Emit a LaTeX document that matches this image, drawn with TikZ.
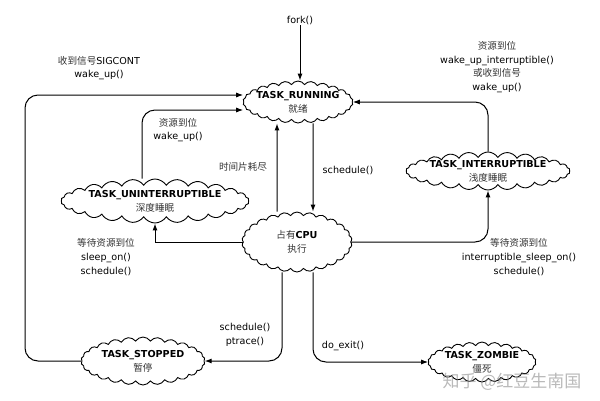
\documentclass[tikz,border=0pt]{standalone}
\usepackage{fontspec}
\setmainfont{DejaVu Sans}
\newfontfamily\cjk{Noto Sans CJK SC}
\usetikzlibrary{shapes.symbols,arrows.meta}
\begin{document}
\begin{tikzpicture}[x=1pt,y=-1pt,
  font=\fontsize{9.6}{13.7}\selectfont,
  cloudbox/.style={draw,cloud,cloud puffs=26,cloud puff arc=115,cloud ignores aspect,
     inner sep=0pt,line width=0.9pt,fill=white},
  lbl/.style={align=center,inner sep=1pt},
  arr/.style={line width=1pt,-{Latex[length=7pt,width=5pt]}},
  rc/.style={rounded corners=13pt}]
\useasboundingbox[fill=white] (0,0) rectangle (600,400);
\newcommand{\zh}[1]{{\cjk\color{black!80}#1}}

% states
\node[cloudbox,minimum width=110pt,minimum height=42pt,
  label={[lbl]center:\textbf{TASK\_RUNNING}\\\zh{就绪}}] (run) at (298,102) {};
\node[cloudbox,minimum width=110pt,minimum height=60pt,
  label={[lbl]center:\zh{占有}\textbf{CPU}\\\zh{执行}}] (cpu) at (297,242) {};
\node[cloudbox,minimum width=188pt,minimum height=44pt,
  label={[lbl]center:\textbf{TASK\_UNINTERRUPTIBLE}\\\zh{深度睡眠}}] (unint) at (155,201) {};
\node[cloudbox,minimum width=164pt,minimum height=38pt,
  label={[lbl]center:\textbf{TASK\_INTERRUPTIBLE}\\\zh{浅度睡眠}}] (intr) at (488,171) {};
\node[cloudbox,minimum width=124pt,minimum height=48pt,
  label={[lbl]center:\textbf{TASK\_STOPPED}\\\zh{暂停}}] (stop) at (143,361) {};
\node[cloudbox,minimum width=108pt,minimum height=40pt,
  label={[lbl]center:\textbf{TASK\_ZOMBIE}\\\zh{僵死}}] (zomb) at (482,362) {};

% labels
\node[lbl] (fork) at (300,20) {fork()};
\node[lbl] (lsig) at (99,68) {\zh{收到信号}SIGCONT\\wake\_up()};
\node[lbl] (lres1) at (178,130) {\zh{资源到位}\\wake\_up()};
\node[lbl] (lslice) at (243,167) {\zh{时间片耗尽}};
\node[lbl] (lsched) at (348,170) {schedule()};
\node[lbl] (lres2) at (497,67) {\zh{资源到位}\\wake\_up\_interruptible()\\\zh{或收到信号}\\wake\_up()};
\node[lbl] (lwait1) at (106,257) {\zh{等待资源到位}\\sleep\_on()\\schedule()};
\node[lbl] (lwait2) at (519,257) {\zh{等待资源到位}\\interruptible\_sleep\_on()\\schedule()};
\node[lbl] (lstop) at (245,335) {schedule()\\ptrace()};
\node[lbl] (lexit) at (343,346) {do\_exit()};

% connectors
\draw[arr] (fork.south) -- (fork.south |- run.north);
\draw[arr,rc] (stop.west) -- (25,361) -- (25,95) -- ([yshift=7pt]run.west);
\draw[arr,rc] ([xshift=-13pt]unint.north) -- (142,110) -- ([yshift=-8pt]run.west);
\draw[arr] ([xshift=-20pt]cpu.north) -- ([xshift=-21pt]run.south);
\draw[arr] ([xshift=15pt]run.south) -- ([xshift=16pt]cpu.north);
\draw[arr,rc] (intr.north) |- (run.east);
\draw[arr,rc] (cpu.east) -| (intr.south);
\draw[arr] (cpu.west) -| (unint.south);
\draw[arr,rc] ([xshift=-15pt]cpu.south) |- (stop.east);
\draw[arr,rc] ([xshift=16pt]cpu.south) |- (zomb.west);

% watermark
\node[text=black!45,opacity=0.6,font=\fontsize{17}{20}\selectfont] (wm) at (512,382) {\cjk 知乎 @红豆生南国};
\end{tikzpicture}
\end{document}
